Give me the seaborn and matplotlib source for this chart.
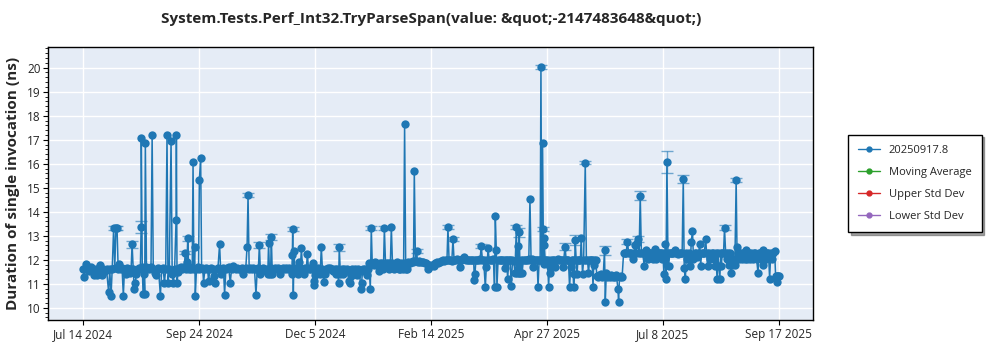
import matplotlib
matplotlib.use('Agg')
import matplotlib.pyplot as plt
from matplotlib.lines import Line2D
from matplotlib.ticker import MultipleLocator, AutoMinorLocator
import numpy as np
import pandas as pd
import seaborn as sns

# ---------------- data ----------------
start_date = '2024-07-14'
days = [
 0,0.6,1.3,2,2.8,3.6,4.8,5.8,7,7.8,8.6,9.5,10.4,11,11.8,12.6,13.5,14.5,15.8,16.5,17.3,18,18.9,19.6,20.3,21,21.7,22.5,23.3,24.1,24.9,25.6,26.4,27.3,28.2,29,29.7,30.3,31,31.6,32.2,33,33.8,34.7,35.4,35.9,36.0,36.6,37.1,37.7,38.1,38.5,39.2,40,41,42,42.7,43.4,44.2,45,45.8,46.6,47.8,48.6,49.5,50.3,51.1,51.9,52.5,53.3,54.4,55.1,55.8,56.6,57.5,57.7,58.1,58.8,59.6,60.4,
 61.2,62,62.6,63.2,63.8,64.3,64.7,65.3,66,66.8,67.5,68,68.5,69,69.4,70.1,70.8,71.4,71.9,72.7,73.3,74,74.5,75.3,76.2,77,77.6,78.4,79.3,80.2,81,81.8,82.5,83.4,84.4,85.2,86,86.8,87.5,88.3,89.2,90,91,91.8,92.6,93.5,94.4,95.3,96.2,97.1,98,98.9,99.8,100.6,101.4,102,102.7,103.5,104.4,105.2,106,106.9,107.7,108.4,109,109.7,110.4,
 111.2,112,112.8,113.6,114.2,114.7,115.3,116,116.4,117,117.7,118.5,119.4,120.3,121.2,122,122.8,123.7,124.6,125.5,126.4,127.3,128.2,129,129.4,129.6,130,130.4,131,131.8,132.6,133.7,134.3,135,135.7,136.5,137.3,138,138.7,139.4,140.2,141,141.8,142.3,142.6,143,143.5,144.3,145.2,146,146.6,147.3,148,148.7,149.5,150.3,151.2,152,152.8,153.7,154.6,155.5,156.4,157.2,158,158.4,159.1,159.9,160.7,161.5,162.3,163.1,163.9,164.6,165.2,165.7,166.4,167.2,168,168.7,169.4,170.2,171,171.6,172.2,172.9,173.7,174.5,175.5,176.2,176.8,177.6,178.2,
 178.8,179.6,180.4,181.2,182,182.7,183.4,184.2,185,185.7,186.3,187,187.8,188.6,189.4,190,190.6,191.3,192,192.8,193.6,194.4,195.2,196,196.8,197.6,198.2,198.8,199.5,200.3,201.1,202,202.8,203.7,204.3,204.8,205.5,206.2,206.8,207.6,208.5,209.4,210.3,211.2,212.2,213.3,214.2,215.2,216.1,217,217.9,218.8,219.7,220.6,221.5,222.4,223.3,224.2,225,225.6,226.3,227.1,228,228.7,229.4,230.2,231,231.9,232.8,233.6,234.5,235.3,
 236.1,237,237.9,238.8,239.7,240.6,241.5,241.9,242.3,242.9,243.8,244.7,245.5,246.2,246.9,247.7,248.7,249.3,250,250.4,251.1,252,252.9,253.7,254.4,254.9,255.5,255.9,256.6,257.5,258.3,259.2,260,260.6,261.3,262,262.5,263.2,264,264.8,265.5,266.3,267,267.9,268.4,268.9,269.3,269.7,270.2,270.8,271.5,272.2,273,273.9,274.8,275.6,276.3,277,277.6,278.2,279,279.9,280.7,281.3,282,282.6,283.1,283.6,284.1,284.5,284.7,284.9,285.2,285.7,286.5,287.2,287.8,288.4,288.8,289.5,290.3,291.1,292,292.8,293.6,294.4,295.2,296,296.5,297.2,298,298.7,299.4,300.1,300.8,301.5,302.2,302.8,303.3,303.8,304.3,304.9,305.4,306,306.8,307.5,308,308.8,309.5,310.5,311.2,311.9,312.5,313.2,314,314.7,315.3,315.8,316.2,316.9,317.7,
 318.4,319.2,320,320.8,321.6,322.4,322.9,323.5,324.2,325,325.8,326.6,327.4,328.2,329,329.8,330.7,331.1,331.7,332.5,333.3,334.2,
 334.9,335.7,336.6,337.3,338.1,339,340,340.7,341.4,342,342.6,343.2,343.8,344.5,345.2,346,347,347.6,348.2,349,349.8,350.6,351.4,352.2,352.9,353.6,354.3,355,355.8,356.6,357.3,357.9,358.5,359.1,359.6,360,360.4,361,361.6,362,362.7,363.5,364.3,365,365.7,366.4,367.2,368,368.8,369.6,370.4,371.1,371.7,372.4,373,373.7,374.4,375,375.5,376,376.8,377.4,378.2,379,379.8,380.6,381.3,381.8,382.5,383.3,384.1,385,385.5,386.1,386.8,387.8,388.6,389.4,389.8,390.5,391.2,392,392.6,393,393.7,394.3,394.6,395.3,396,396.6,397.3,398,398.8,399.6,400.2,400.7,401.4,402.2,403,403.8,404.3,405,405.8,406.6,407.4,408.2,409,410,410.8,411.6,412.4,413.2,414,414.8,415.6,416.4,417.3,418,418.8,419.6,420.2,420.7,421.4,422.2,423,423.8,424.5,425.2,426,426.8,427.6,428.2,428.8,429.2,429.6,430,
]
values = [
 11.6,11.3,11.6,11.82,11.6,11.55,11.7,11.6,11.35,11.6,11.35,11.6,11.8,11.6,11.35,11.6,11.55,11.6,10.65,11.6,10.5,11.6,13.33,11.65,13.33,13.33,11.6,11.82,11.6,11.65,10.5,11.6,11.4,11.65,11.6,11.45,11.6,12.65,11.6,10.78,11.05,11.4,11.6,11.65,11.6,13.37,17.06,11.7,10.57,11.4,10.57,16.85,11.7,11.65,11.6,11.7,17.2,11.6,11.45,11.35,11.6,11.65,10.5,11.6,11.65,11.05,11.6,17.2,11.05,11.6,16.95,11.4,11.05,11.6,13.65,17.2,11.05,11.5,11.65,11.7,
 11.6,11.65,11.7,12.3,11.6,11.92,12.89,11.6,11.7,11.6,11.65,16.08,11.6,12.52,10.5,11.6,11.7,11.6,15.32,16.25,11.65,11.6,11.05,11.6,11.65,11.6,11.1,11.6,11.65,11.6,11.32,11.05,11.6,11.65,12.64,11.4,11.6,11.65,10.55,11.6,11.65,11.7,11.05,11.6,11.75,11.65,11.6,11.65,11.6,11.6,11.65,11.4,11.6,11.65,12.54,14.7,11.6,11.65,11.6,11.65,11.6,10.55,11.6,11.65,12.61,11.4,11.6,
 11.65,11.6,11.55,11.6,11.4,12.68,11.4,11.65,12.96,11.4,11.6,11.65,11.6,11.65,11.6,11.4,11.6,11.65,11.6,11.65,11.6,11.65,11.6,11.4,12.2,13.27,10.53,12.38,11.6,11.65,11.4,11.92,11.6,12.47,11.6,11.4,11.65,11.6,12.24,11.6,11.65,11.6,11.7,11.85,10.95,11.1,11.35,11.6,11.65,11.6,11.4,12.52,11.6,11.08,11.4,11.6,11.65,11.6,11.65,11.6,11.55,11.6,11.4,11.6,11.02,12.52,11.4,11.6,11.4,11.6,11.55,11.6,11.55,11.1,11.04,11.32,11.6,11.55,11.6,11.55,11.35,11.6,11.55,10.78,11.04,11.6,11.55,11.6,11.35,11.6,11.85,10.78,13.33,
 11.85,11.8,11.9,11.85,11.8,11.53,11.85,11.8,11.85,11.6,13.31,11.85,11.8,11.85,11.6,11.85,13.37,11.85,11.6,11.8,11.85,11.9,11.6,11.6,11.85,11.6,11.85,17.64,11.6,11.6,11.9,11.85,11.9,11.95,11.9,15.7,11.95,12.38,11.92,11.95,11.9,11.92,11.9,11.85,11.85,11.6,11.8,11.75,11.8,11.75,11.85,11.9,11.85,11.9,11.95,12.0,11.95,11.98,12.0,13.35,11.98,12.0,11.95,12.86,11.98,12.0,12.05,12.0,11.68,12.0,12.05,12.13,
 12.05,12.0,11.98,12.0,12.0,11.98,12.0,11.15,11.4,12.0,11.98,12.0,12.05,12.57,12.0,11.98,10.85,11.68,12.0,12.47,12.0,11.98,12.0,12.05,10.85,13.83,12.4,10.85,12.0,11.98,12.0,12.0,11.98,11.65,12.0,12.0,11.18,12.0,11.98,10.9,12.0,11.95,11.46,13.35,11.46,12.57,11.46,13.14,11.46,12.0,11.46,12.0,11.98,12.0,12.0,12.05,14.53,12.0,12.02,11.71,12.0,11.98,12.0,10.85,12.0,11.98,20.04,11.98,16.85,13.28,11.81,12.89,12.6,12.0,11.98,12.0,10.85,11.71,11.43,12.0,11.98,12.0,11.71,12.0,12.05,12.0,11.98,12.0,11.71,12.0,12.54,12.0,11.98,12.0,10.85,11.71,12.0,11.98,10.85,11.39,12.82,11.98,11.39,12.0,11.98,12.0,12.92,11.39,12.0,16.04,12.0,11.98,11.45,12.0,12.0,11.98,10.88,12.0,11.8,12.0,11.32,
 11.3,11.35,11.4,11.3,11.32,12.39,10.25,11.45,11.3,11.32,11.3,11.35,11.3,11.32,11.3,11.35,10.78,10.25,11.3,11.32,11.3,12.27,
 12.3,12.27,12.75,12.3,12.27,12.3,12.02,12.3,12.61,12.3,12.7,12.85,12.3,14.67,12.3,12.27,11.74,12.3,12.4,12.05,12.3,12.27,12.3,12.05,12.3,12.43,12.05,12.3,12.27,12.3,12.27,12.02,12.3,11.39,12.05,12.64,11.2,16.08,12.3,11.74,12.27,12.3,12.27,12.3,12.4,12.27,12.3,12.25,12.27,12.3,12.27,15.36,11.64,11.2,12.3,12.05,12.3,12.05,11.74,12.72,13.2,12.05,12.3,12.27,12.1,12.3,12.65,11.74,12.3,12.27,12.3,12.86,12.3,11.74,12.3,12.02,12.3,12.27,12.02,11.74,12.3,11.2,12.27,11.74,11.2,12.3,11.74,12.3,12.27,13.33,12.3,12.05,12.27,11.8,12.3,11.46,11.8,12.05,11.8,15.32,12.52,12.3,12.05,12.27,12.05,12.3,12.05,12.4,12.05,12.27,12.05,12.3,12.05,12.27,12.3,12.05,11.46,12.27,12.3,12.05,11.8,12.4,12.27,12.05,12.3,12.27,11.2,12.3,12.05,12.27,12.35,11.32,11.32,11.06,11.32,11.32,
]
# error bars that are visible beyond the markers (day -> half width)
err_days = [18.9,20.3,21,30.3,35.9,63.2,64.7,102,109,116.4,129.6,158.4,178.2,186.3,206.2,225.6,228.7,246.2,267.9,269.7,283.1,284.5,298,304.3,310.5,322.4,336.6,343.2,344.5,361,371.1,396.6,403.8]
err_sizes = [0.08,0.08,0.08,0.15,0.25,0.08,0.12,0.08,0.12,0.12,0.08,0.15,0.08,0.08,0.08,0.08,0.08,0.08,0.08,0.2,0.08,0.08,0.15,0.2,0.06,0.2,0.1,0.12,0.2,0.45,0.15,0.1,0.1]

tick_labels = ['Jul 14 2024', 'Sep 24 2024', 'Dec 5 2024', 'Feb 14 2025',
               'Apr 27 2025', 'Jul 8 2025', 'Sep 17 2025']
legend_labels = ['20250917.8', 'Moving Average', 'Upper Std Dev', 'Lower Std Dev']
legend_colors = ['#1f77b4', '#2ca02c', '#d62728', '#9467bd']
title = 'System.Tests.Perf_Int32.TryParseSpan(value: &quot;-2147483648&quot;)'
ylabel = 'Duration of single invocation (ns)'

# ---------------- plot ----------------
sns.set_style('white')
plt.rcParams['font.family'] = ['Open Sans', 'DejaVu Sans']

fig = plt.figure(figsize=(10, 3.5), dpi=100)
ax = fig.add_axes([0.0483, 0.0857, 0.765, 0.7809])
ax.set_facecolor('#E5ECF6')

start = pd.Timestamp(start_date)
dates = start + pd.to_timedelta(days, unit='D')
df = pd.DataFrame({'date': dates, 'value': values})
err_vals = [values[days.index(d)] for d in err_days]
err_dates = start + pd.to_timedelta(err_days, unit='D')

blue = legend_colors[0]
ax.errorbar(err_dates, err_vals, yerr=err_sizes, fmt='none', ecolor=blue,
            alpha=0.6, capsize=4, elinewidth=1.0, capthick=1.0, zorder=2)
sns.lineplot(data=df, x='date', y='value', estimator=None, sort=False,
             color=blue, marker='o', markersize=6, markeredgewidth=0,
             linewidth=1.1, ax=ax, zorder=3)

ax.set_ylim(9.49, 20.875)
ax.yaxis.set_major_locator(MultipleLocator(1))
ax.yaxis.set_minor_locator(AutoMinorLocator(5))
ticks = pd.date_range(dates.min(), dates.max(), periods=7)
ax.set_xticks(ticks)
ax.set_xticklabels(tick_labels)

ax.grid(True, which='major', color='white', linewidth=1.0)
ax.set_axisbelow(True)
for s in ax.spines.values():
    s.set_color('black')
    s.set_linewidth(1.0)
ax.tick_params(axis='both', which='major', labelsize=8.5, length=3.5, color='black',
               bottom=True, left=True, pad=2)
ax.tick_params(axis='y', which='minor', length=2, color='black', left=True)

ax.set_xlabel('')
ax.set_ylabel(ylabel, fontsize=11, fontweight='bold', labelpad=5)
fig.text(0.4308, 0.946, title, ha='center', va='center', fontsize=11,
         fontweight='bold')

handles = [Line2D([0], [0], color=c, marker='o', markersize=3.5, linewidth=1)
           for c in legend_colors]
leg = ax.legend(handles, legend_labels, loc='center left',
                bbox_to_anchor=(1.045, 0.5), borderaxespad=0, frameon=True,
                fancybox=False, shadow=True, edgecolor='black', fontsize=8,
                labelspacing=1.0, handlelength=2.0, borderpad=0.9)
leg.get_frame().set_linewidth(1.0)

fig.savefig('out.png', dpi=100)
